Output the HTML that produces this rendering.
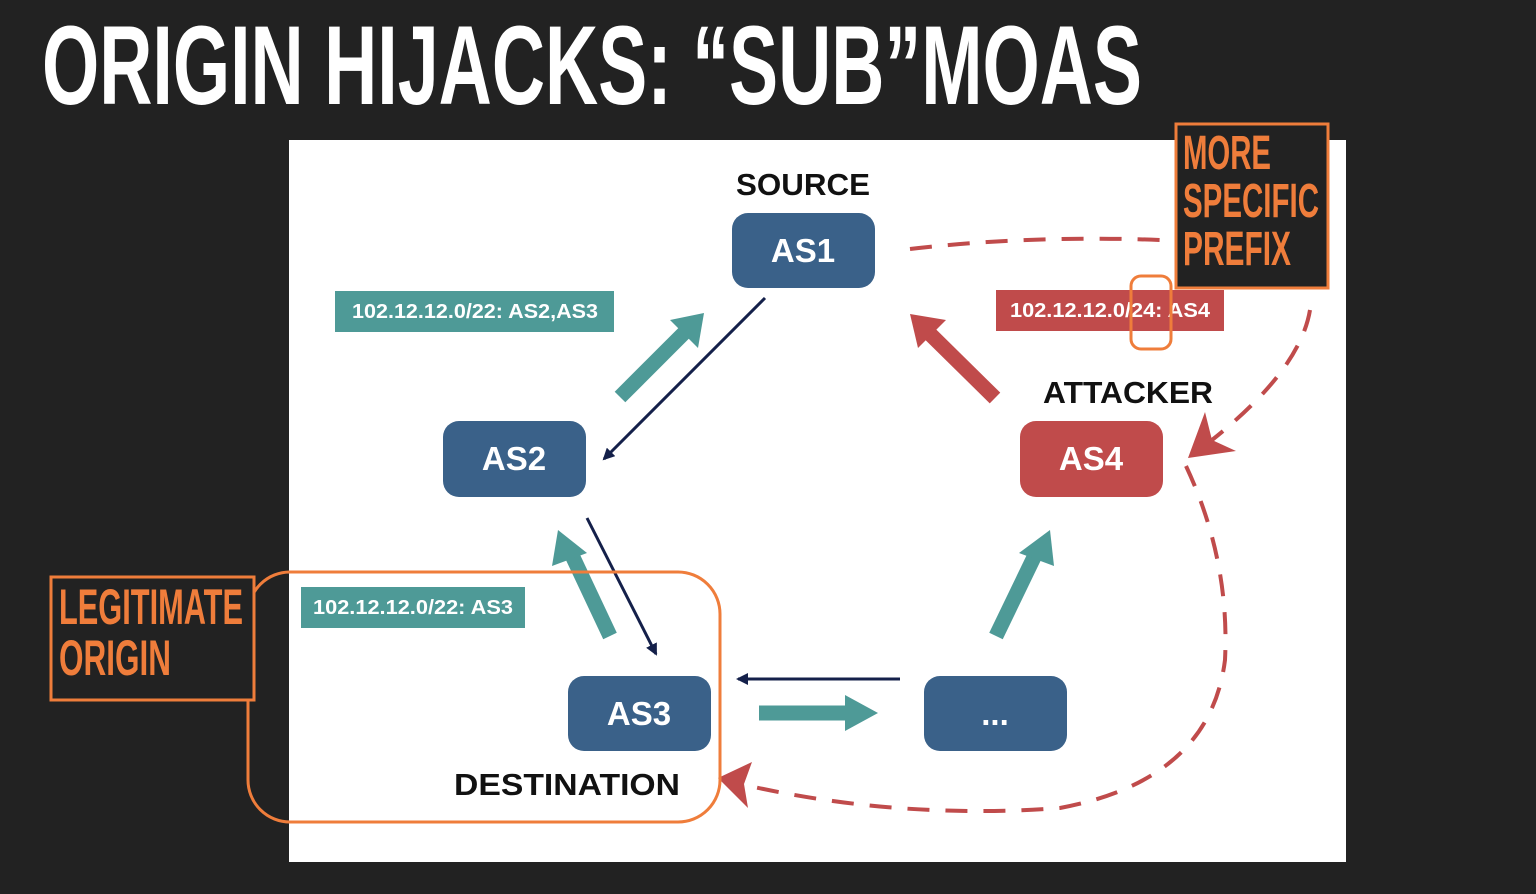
<!DOCTYPE html>
<html><head><meta charset="utf-8"><style>
html,body{margin:0;padding:0;background:#222;}
svg{display:block}
</style></head><body>
<svg width="1536" height="894" viewBox="0 0 1536 894" xmlns="http://www.w3.org/2000/svg">
<rect width="1536" height="894" fill="#222"/>
<text x="42" y="104" font-family="Liberation Sans Narrow, Liberation Sans, sans-serif" font-weight="bold" font-size="112" fill="#fff" textLength="1100" lengthAdjust="spacingAndGlyphs">ORIGIN HIJACKS: “SUB”MOAS</text>
<rect x="289" y="140" width="1057" height="722" fill="#fff"/>
<defs>
<marker id="ah" markerWidth="12" markerHeight="12" refX="10" refY="6" orient="auto" markerUnits="userSpaceOnUse"><path d="M0,0 L12,6 L0,12 z" fill="#14204a"/></marker>
</defs>
<g font-family="Liberation Sans, sans-serif" font-weight="bold">
<text x="736" y="195" font-size="31" fill="#111" textLength="134" lengthAdjust="spacingAndGlyphs">SOURCE</text>
<text x="1043" y="403" font-size="31" fill="#111" textLength="170" lengthAdjust="spacingAndGlyphs">ATTACKER</text>
<text x="454" y="795" font-size="31" fill="#111" textLength="226" lengthAdjust="spacingAndGlyphs">DESTINATION</text>
<g text-anchor="middle">
<rect x="732" y="213" width="143" height="75" rx="16" fill="#3a6189"/>
<text x="803" y="262" font-size="33" fill="#fff">AS1</text>
<rect x="443" y="421" width="143" height="76" rx="16" fill="#3a6189"/>
<text x="514" y="470" font-size="33" fill="#fff">AS2</text>
<rect x="1020" y="421" width="143" height="76" rx="16" fill="#c04b4b"/>
<text x="1091" y="470" font-size="33" fill="#fff">AS4</text>
<rect x="568" y="676" width="143" height="75" rx="16" fill="#3a6189"/>
<text x="639" y="725" font-size="33" fill="#fff">AS3</text>
<rect x="924" y="676" width="143" height="75" rx="16" fill="#3a6189"/>
<text x="995" y="725" font-size="33" fill="#fff">...</text>
</g>
<rect x="335" y="291" width="279" height="41" fill="#4e9a97"/>
<text x="352" y="318" font-size="20" fill="#fff" textLength="246" lengthAdjust="spacingAndGlyphs">102.12.12.0/22: AS2,AS3</text>
<rect x="301" y="587" width="224" height="41" fill="#4e9a97"/>
<text x="313" y="614" font-size="20" fill="#fff" textLength="200" lengthAdjust="spacingAndGlyphs">102.12.12.0/22: AS3</text>
<rect x="996" y="290" width="228" height="41" fill="#c04b4b"/>
<text x="1010" y="317" font-size="20" fill="#fff" textLength="200" lengthAdjust="spacingAndGlyphs">102.12.12.0/24: AS4</text>
</g>
<g stroke-width="15" fill="none">
<line x1="620" y1="397" x2="688" y2="329" stroke="#4e9a97"/>
<path d="M704,313 L698,348 L670,320 z" fill="#4e9a97" stroke="none"/>
<line x1="610" y1="636" x2="570" y2="551" stroke="#4e9a97"/>
<path d="M558,530 L587,553 L552,566 z" fill="#4e9a97" stroke="none"/>
<line x1="996" y1="636" x2="1037" y2="551" stroke="#4e9a97"/>
<path d="M1050,530 L1054,566 L1019,553 z" fill="#4e9a97" stroke="none"/>
<line x1="759" y1="713" x2="850" y2="713" stroke="#4e9a97"/>
<path d="M878,713 L845,695 L845,731 z" fill="#4e9a97" stroke="none"/>
<line x1="995" y1="398" x2="928" y2="332" stroke="#c04b4b"/>
<path d="M910,314 L946,320 L918,348 z" fill="#c04b4b" stroke="none"/>
</g>
<g stroke="#14204a" stroke-width="3" fill="none">
<line x1="765" y1="298" x2="604" y2="459" marker-end="url(#ah)"/>
<line x1="587" y1="518" x2="656" y2="654" marker-end="url(#ah)"/>
<line x1="900" y1="679" x2="738" y2="679" marker-end="url(#ah)"/>
</g>
<g stroke="#c04b4b" stroke-width="4" fill="none" stroke-dasharray="22,16">
<path d="M910,249 Q1030,235 1160,240"/>
<path d="M1310,310 Q1300,370 1212,440"/>
<path d="M1186,466 Q1230,560 1225,660 Q1210,780 1060,808 Q900,820 745,785"/>
</g>
<path d="M1188,458 L1236,451 L1212,440 L1205,412 z" fill="#c04b4b"/>
<path d="M718,778 L752,762 L744,784 L748,808 z" fill="#c04b4b"/>
<rect x="248" y="572" width="472" height="250" rx="42" fill="none" stroke="#ef7d3b" stroke-width="3"/>
<rect x="1131" y="276" width="40" height="73" rx="10" fill="none" stroke="#ef7d3b" stroke-width="3"/>
<rect x="51" y="577" width="203" height="123" fill="#222" stroke="#ef7d3b" stroke-width="3"/>
<rect x="1176" y="124" width="152" height="164" fill="#222" stroke="#ef7d3b" stroke-width="3"/>
<g font-family="Liberation Sans Narrow, Liberation Sans, sans-serif" font-weight="bold" fill="#ef7d3b">
<text x="59" y="624" font-size="50" textLength="184" lengthAdjust="spacingAndGlyphs">LEGITIMATE</text>
<text x="59" y="675" font-size="50" textLength="112" lengthAdjust="spacingAndGlyphs">ORIGIN</text>
<text x="1183" y="169" font-size="48" textLength="88" lengthAdjust="spacingAndGlyphs">MORE</text>
<text x="1183" y="217" font-size="48" textLength="136" lengthAdjust="spacingAndGlyphs">SPECIFIC</text>
<text x="1183" y="265" font-size="48" textLength="108" lengthAdjust="spacingAndGlyphs">PREFIX</text>
</g>
</svg>
</body></html>
